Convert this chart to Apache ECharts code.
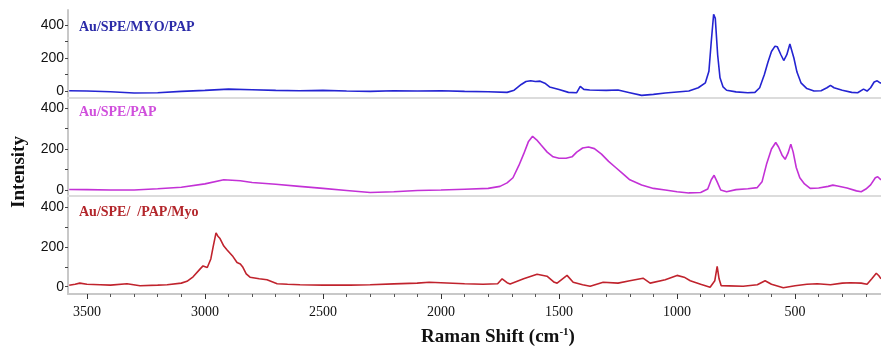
<!DOCTYPE html>
<html>
<head>
<meta charset="utf-8">
<script src="https://cdn.jsdelivr.net/npm/echarts@6/dist/echarts.min.js"></script>
<style>
  html, body { margin: 0; padding: 0; background: #fff; }
  #main { width: 881px; height: 346px; }
</style>
</head>
<body>
<div id="main"></div>
<script>
// Raman spectra (shift in cm-1, intensity)
var myoPapShift = [3575, 3500, 3400, 3300, 3200, 3100, 3000, 2900, 2800, 2700, 2600, 2500, 2400, 2300, 2200, 2100, 2000, 1900, 1800, 1720, 1690, 1660, 1640, 1620, 1600, 1580, 1560, 1540, 1500, 1460, 1425, 1410, 1395, 1370, 1300, 1250, 1200, 1150, 1100, 1050, 1000, 950, 910, 880, 865, 855, 845, 838, 828, 818, 805, 790, 750, 700, 670, 650, 630, 615, 600, 585, 575, 560, 548, 535, 522, 515, 505, 492, 475, 450, 420, 390, 365, 350, 335, 300, 260, 235, 210, 195, 180, 165, 152, 140, 136];
var myoPapInt = [2, 0, -4, -12, -10, -2, 4, 12, 8, 4, 2, 4, 0, -2, 2, 0, 2, -2, -4, -8, 5, 40, 58, 62, 58, 60, 48, 25, 10, -8, -10, 28, 10, 6, 4, 6, -10, -26, -20, -12, -6, 0, 20, 50, 120, 300, 465, 440, 220, 80, 25, 5, -5, -10, -8, 20, 100, 175, 240, 272, 268, 220, 185, 220, 285, 280, 200, 115, 50, 15, 0, 2, 20, 35, 20, 5, -8, -10, 12, 0, 20, 55, 62, 50, 48];

var papShift = [3575, 3500, 3400, 3300, 3200, 3100, 3000, 2920, 2850, 2800, 2700, 2600, 2500, 2400, 2300, 2200, 2100, 2000, 1900, 1800, 1750, 1720, 1695, 1670, 1650, 1630, 1612, 1595, 1575, 1550, 1525, 1500, 1470, 1445, 1425, 1400, 1375, 1350, 1320, 1290, 1260, 1230, 1200, 1150, 1100, 1050, 1000, 950, 900, 870, 855, 843, 830, 815, 790, 750, 700, 660, 640, 620, 600, 582, 570, 555, 542, 530, 518, 508, 495, 480, 460, 436, 400, 360, 340, 320, 280, 240, 220, 200, 180, 160, 150, 136];
var papInt = [3, 2, 0, 0, 6, 14, 30, 50, 45, 37, 28, 18, 8, -2, -12, -8, -2, 0, 4, 8, 18, 35, 60, 120, 175, 235, 262, 245, 218, 185, 162, 155, 155, 162, 185, 205, 210, 202, 175, 140, 110, 80, 50, 25, 8, 0, -8, -14, -12, 5, 50, 72, 40, 0, -8, 2, 6, 12, 40, 130, 200, 232, 210, 170, 150, 180, 224, 185, 110, 60, 30, 8, 10, 18, 24, 20, 10, -4, -8, 5, 25, 60, 65, 50];

var papMyoShift = [3575, 3550, 3530, 3500, 3444, 3400, 3330, 3275, 3200, 3160, 3100, 3076, 3050, 3020, 3008, 2990, 2975, 2965, 2953, 2945, 2936, 2920, 2906, 2881, 2864, 2850, 2839, 2825, 2809, 2770, 2737, 2694, 2650, 2597, 2500, 2385, 2300, 2200, 2101, 2050, 2000, 1900, 1822, 1760, 1741, 1720, 1707, 1650, 1593, 1551, 1520, 1508, 1466, 1440, 1400, 1368, 1313, 1250, 1200, 1144, 1114, 1050, 1000, 970, 944, 900, 860, 840, 830, 822, 813, 780, 720, 660, 627, 600, 550, 500, 450, 406, 350, 300, 266, 220, 195, 175, 156, 145, 136];
var papMyoInt = [7, 12, 18, 12, 10, 8, 15, 5, 8, 10, 18, 27, 50, 90, 105, 97, 140, 202, 272, 255, 243, 205, 185, 152, 122, 115, 98, 65, 48, 40, 35, 15, 12, 10, 8, 8, 10, 14, 18, 22, 20, 15, 12, 15, 40, 20, 14, 40, 63, 53, 22, 18, 57, 22, 10, 2, 22, 18, 30, 43, 18, 35, 57, 48, 30, 12, -3, 30, 102, 40, 5, 4, 2, 10, 30, 12, -5, 5, 12, 15, 10, 18, 20, 18, 12, 40, 68, 55, 40];

var yTicks = [0, 200, 400];
var yMinor = [0, 100, 200, 300, 400];
var xLabels = [500, 1000, 1500, 2000, 2500, 3000, 3500];
var xMinor = [200, 300, 400, 500, 600, 700, 800, 900, 1000, 1100, 1200, 1300, 1400, 1500, 1600, 1700, 1800, 1900, 2000, 2100, 2200, 2300, 2400, 2500, 2600, 2700, 2800, 2900, 3000, 3100, 3200, 3300, 3400, 3500];

function pairs(xs, ys) {
    return xs.map(function (x, i) { return [x, ys[i]]; });
}

var myChart = echarts.init(document.getElementById('main'));

var serif = 'Liberation Serif';
var sans = 'Liberation Sans';

function yAxisFor(idx, min, max) {
    return {
        gridIndex: idx,
        type: 'value',
        min: min,
        max: max,
        splitLine: { show: false },
        axisLine: { show: true, lineStyle: { color: '#c8c8c8', width: 2 } },
        axisTick: { show: true, inside: false, length: 3, customValues: yMinor, lineStyle: { color: '#444' } },
        axisLabel: { customValues: yTicks, color: '#111', fontFamily: sans, fontSize: 14, margin: 4 }
    };
}

function plainX(idx) {
    return {
        gridIndex: idx,
        type: 'value',
        position: 'bottom',
        inverse: true,
        min: 136,
        max: 3580,
        splitLine: { show: false },
        axisLine: { show: true, onZero: false, lineStyle: { color: '#dcdcdc', width: 2 } },
        axisTick: { show: false },
        axisLabel: { show: false }
    };
}

var option = {
    animation: false,
    grid: [
        { left: 68, right: 0, top: 10, height: 88, outerBoundsMode: 'none' },
        { left: 68, right: 0, top: 99, height: 97, outerBoundsMode: 'none' },
        { left: 68, right: 0, top: 197, height: 97, outerBoundsMode: 'none' }
    ],
    title: [
        { text: 'Au/SPE/MYO/PAP', left: 74, top: 15, textStyle: { color: '#2b2ba8', fontFamily: serif, fontWeight: 'bold', fontSize: 14 } },
        { text: 'Au/SPE/PAP', left: 74, top: 100, textStyle: { color: '#d04fdc', fontFamily: serif, fontWeight: 'bold', fontSize: 14 } },
        { text: 'Au/SPE/  /PAP/Myo', left: 74, top: 200, textStyle: { color: '#b3262b', fontFamily: serif, fontWeight: 'bold', fontSize: 14 } }
    ],
    graphic: [{
        type: 'text',
        x: 19,
        y: 172,
        rotation: Math.PI / 2,
        style: {
            text: 'Intensity',
            fill: '#111',
            font: 'bold 19px "Liberation Serif"',
            align: 'center',
            verticalAlign: 'middle'
        }
    }, {
        type: 'text',
        x: 498,
        y: 337,
        style: {
            text: '{t|Raman Shift (cm}{s|-1}{t|)}',
            align: 'center',
            verticalAlign: 'middle',
            rich: {
                t: { fontFamily: serif, fontWeight: 'bold', fontSize: 19, fill: '#111' },
                s: { fontFamily: serif, fontWeight: 'bold', fontSize: 11, fill: '#111', verticalAlign: 'top', padding: [0, 0, 9, 0] }
            }
        }
    }],
    xAxis: [
        plainX(0),
        plainX(1),
        {
            gridIndex: 2,
            type: 'value',
            position: 'bottom',
            inverse: true,
            min: 136,
            max: 3580,
            splitLine: { show: false },
            axisLine: { show: true, onZero: false, lineStyle: { color: '#c8c8c8', width: 2 } },
            axisTick: { show: true, length: 3, customValues: xMinor, lineStyle: { color: '#555' } },
            axisLabel: { show: false }
        },
        {
            gridIndex: 2,
            type: 'value',
            position: 'bottom',
            offset: 0,
            inverse: true,
            min: 136,
            max: 3580,
            splitLine: { show: false },
            axisLine: { show: false, onZero: false },
            axisTick: { show: true, length: 5, customValues: xLabels, lineStyle: { color: '#333' } },
            axisLabel: { customValues: xLabels, formatter: function (v) { return String(v); }, color: '#111', fontFamily: serif, fontSize: 14, margin: 11 }
        }
    ],
    yAxis: [
        yAxisFor(0, -42, 491),
        yAxisFor(1, -29, 444),
        yAxisFor(2, -37, 453)
    ],
    series: [
        {
            name: 'Au/SPE/MYO/PAP', type: 'line', xAxisIndex: 0, yAxisIndex: 0,
            data: pairs(myoPapShift, myoPapInt), showSymbol: false,
            lineStyle: { color: '#2424d2', width: 1.6 }
        },
        {
            name: 'Au/SPE/PAP', type: 'line', xAxisIndex: 1, yAxisIndex: 1,
            data: pairs(papShift, papInt), showSymbol: false,
            lineStyle: { color: '#c331d6', width: 1.6 }
        },
        {
            name: 'Au/SPE/PAP/Myo', type: 'line', xAxisIndex: 2, yAxisIndex: 2,
            data: pairs(papMyoShift, papMyoInt), showSymbol: false,
            lineStyle: { color: '#c0232d', width: 1.6 }
        }
    ]
};

myChart.setOption(option);
</script>
</body>
</html>
